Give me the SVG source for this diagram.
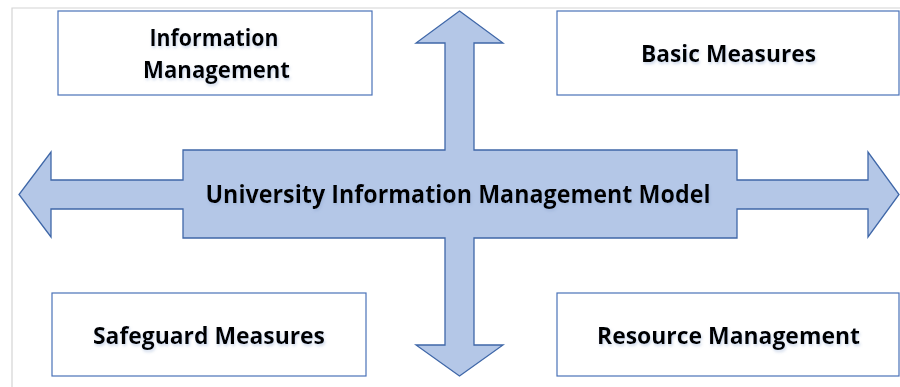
<svg xmlns="http://www.w3.org/2000/svg" width="900" height="387" viewBox="0 0 900 387">
  <defs>
    <filter id="tshadow" x="-10%" y="-30%" width="120%" height="160%">
      <feDropShadow dx="1" dy="2" stdDeviation="1.5" flood-color="#8ea6cf" flood-opacity="0.45"/>
    </filter>
  </defs>
  <style>
    .frame { stroke: #d4d4d4; stroke-width: 1.2; fill: none; }
    .box { fill: #ffffff; stroke: #4a72b8; stroke-width: 1.2; }
    .cross { fill: #b4c7e7; stroke: #3f67a8; stroke-width: 1.3; stroke-linejoin: miter; }
    .lbl { font-family: "Open Sans", "Liberation Sans", sans-serif; font-weight: 700; fill: #000000; text-anchor: middle; filter: url(#tshadow); }
  </style>
  <rect width="900" height="387" fill="#ffffff"/>
  <path class="frame" d="M12 387 V8 H900"/>

  <g id="connectors">
    <path id="cross-arrow" class="cross" d="M459.5 11 L503 43 L474 43 L474 150 L737 150 L737 180 L868 180 L868 152 L899 194.5 L868 237 L868 209 L737 209 L737 238 L474 238 L474 345 L503 345 L459.5 376 L416 345 L445 345 L445 238 L183 238 L183 209 L51 209 L51 237 L19 194.5 L51 152 L51 180 L183 180 L183 150 L445 150 L445 43 L416 43 Z"/>
  </g>

  <g id="center-node">
    <text class="lbl" x="458" y="203" font-size="25" textLength="505" lengthAdjust="spacingAndGlyphs">University Information Management Model</text>
  </g>

  <g id="info-management">
    <rect class="box" x="58" y="11" width="314" height="84"/>
    <text class="lbl" x="214" y="46" font-size="24" textLength="129" lengthAdjust="spacingAndGlyphs">Information</text>
    <text class="lbl" x="216.5" y="78" font-size="24" textLength="147" lengthAdjust="spacingAndGlyphs">Management</text>
  </g>

  <g id="basic-measures">
    <rect class="box" x="557" y="11" width="342" height="84"/>
    <text class="lbl" x="728.5" y="62" font-size="24" textLength="175" lengthAdjust="spacingAndGlyphs">Basic Measures</text>
  </g>

  <g id="safeguard-measures">
    <rect class="box" x="52" y="293" width="314" height="83"/>
    <text class="lbl" x="209" y="344" font-size="24" textLength="232" lengthAdjust="spacingAndGlyphs">Safeguard Measures</text>
  </g>

  <g id="resource-management">
    <rect class="box" x="557" y="293" width="342" height="83"/>
    <text class="lbl" x="728.5" y="344" font-size="24" textLength="263" lengthAdjust="spacingAndGlyphs">Resource Management</text>
  </g>
</svg>
